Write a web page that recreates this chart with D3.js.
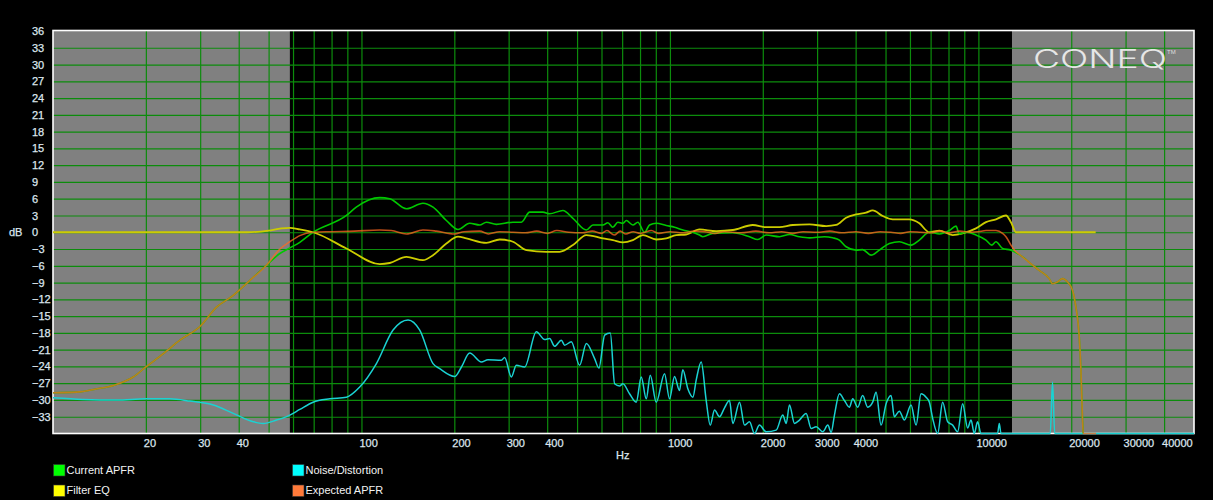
<!DOCTYPE html>
<html><head><meta charset="utf-8">
<script src="https://cdn.jsdelivr.net/npm/d3@7"></script>
<style>
html,body{margin:0;padding:0;background:#000;}
svg{display:block;}
</style></head>
<body>
<svg id="chart" width="1213" height="500"></svg>
<script>
// ---------- data ----------
const xTickLabels = [20,30,40,100,200,300,400,1000,2000,3000,4000,10000,20000,30000,40000];
const yTickLabels = [36,33,30,27,24,21,18,15,12,9,6,3,0,-3,-6,-9,-12,-15,-18,-21,-24,-27,-30,-33];
const correctionRange = [58.6, 12850]; // Hz, outside is greyed
const seriesNames = ["Current APFR","Filter EQ","Noise/Distortion","Expected APFR"];
const seriesColors = ["#00ff00","#ffff00","#00ffff","#ff7a3a"];

const lowRolloff = [[10,-28.7],[11.9,-28.6],[13.9,-28],[15.7,-27.4],[18.2,-25.9],[20,-24.1],[22.8,-21.7],[25.8,-19.3],[29.9,-16.9],[33.9,-13.4],[38.4,-11.3],[43.5,-8.6],[49.2,-5.9]];
const highRolloff = [[13905,-4.4],[14980,-5.9],[15750,-6.8],[16970,-8.3],[17390,-9.2],[18050,-8.9],[18740,-8.3],[19450,-8.9],[20190,-10.4],[20710,-13.4],[21230,-18.7],[21500,-24.7],[21760,-33.6],[21870,-36]];

const currentAPFR = [[54.4,-3.8],[58.6,-2.8],[63.1,-1.8],[69.7,0],[89.4,3],[96.2,4.5],[114.6,6.2],[123.5,6],[139.9,4.2],[158.3,5.2],[170.6,4.5],[188.5,2.1],[205.6,0.5],[224.3,1.6],[241.7,1.3],[254.1,1.8],[273.7,1.4],[309.8,1.8],[329.9,1.8],[351,3.6],[387.5,3.6],[407.4,3.3],[449.9,3.9],[484.8,2.5],[535.8,0.4],[562.8,1.3],[606.3,1.3],[629.3,1.7],[653.1,0.9],[678,1.8],[703.8,1.6],[721.9,2.1],[758.3,1.3],[787,1.8],[827.4,0],[858.9,1.3],[902.9,1.6],[972.8,1.2],[1035,0.9],[1101,0.4],[1187,0],[1247,-0.5],[1278,-0.8],[1377,-0.2],[1599,-0.1],[1811,-0.8],[1926,-1.3],[2051,-0.5],[2265,-0.8],[2441,-0.4],[2630,-0.8],[2834,-1],[3166,-0.8],[3371,-1],[3544,-1.4],[3725,-2.6],[4013,-3.2],[4216,-3.1],[4489,-4.1],[4775,-3.2],[5145,-2],[5543,-1.7],[6049,-2.3],[6436,-1.4],[6935,0],[7473,-0.3],[8049,0.3],[8459,1.1],[8674,-0.3],[9117,0],[9822,-0.5],[10583,-1.4],[11043,-2.3],[11402,-1.7],[11980,-2.9],[12753,-3.2]];

const filterEQ = [[10,0],[42.5,0],[50,0.3],[55,0.7],[58.6,0.8],[63.1,0.5],[69.7,0],[89.4,-2.9],[114.6,-5.7],[123.5,-5.5],[139.9,-4.4],[158.3,-5],[170.6,-4.1],[188.5,-2],[205.6,-0.8],[218.8,-1.1],[254.1,-1.9],[280.5,-1.3],[309.8,-1.7],[342.4,-3.2],[397.5,-3.5],[439,-3.5],[484.8,-2.3],[535.8,-0.5],[606.3,-1.1],[653.1,-1.4],[703.8,-1.8],[758.3,-1.4],[817.1,-0.5],[902.9,-1.3],[972.8,-1.1],[1048,-0.5],[1129,-0.4],[1247,0.5],[1413,0.2],[1599,0.4],[1856,1.3],[2051,0.9],[2265,0.9],[2502,1.3],[2834,1.4],[3209,1.1],[3458,1.3],[3725,2.6],[4013,3.2],[4324,3.5],[4543,3.9],[4895,2.9],[5275,2.3],[5973,2.3],[6436,1.6],[6935,0],[7473,0.3],[8251,-0.5],[8890,-0.2],[9822,0.7],[10583,1.8],[11402,2.3],[12286,3],[12753,1.8],[13237,0],[24000,0]];

const expectedAPFR = [[54.4,-3.0],[58.6,-1.7],[63.1,-0.6],[69.7,0],[80,0.1],[95,0.2],[114.6,0.4],[125,0.3],[139.9,-0.3],[158.3,0.4],[175,0.2],[200.5,-0.3],[215,0.1],[241.7,0.2],[258,-0.3],[280,0.1],[310,0],[340,-0.1],[370,0.2],[400,-0.2],[430,0.3],[470,0],[520,-0.1],[560,0.2],[600,-0.2],[625,0.3],[660,-0.5],[690,0.2],[720,-0.3],[760,0.1],[800,-0.2],[830,0],[870,0.3],[920,-0.2],[1000,0.1],[1100,-0.1],[1200,0.2],[1300,0.1],[1400,-0.2],[1500,0.1],[1700,-0.1],[1900,0.2],[2100,-0.1],[2300,0.1],[2500,-0.2],[2700,0.1],[3000,0],[3300,0.2],[3600,-0.1],[4000,0.1],[4400,-0.2],[4800,0.1],[5200,0],[5600,-0.2],[6000,0.1],[6500,0],[7000,-0.1],[7500,0.2],[8000,-0.1],[8700,0.2],[9500,0],[10000,0.1],[10583,0.3],[11402,0.3],[11980,-0.2],[12286,-0.8],[12753,-2.3],[13100,-3.2]];
const expectedTail = [[24070,-36]];

const noiseDistortion = [[10,-29.6],[12.5,-29.9],[16.1,-30],[20,-29.8],[23.9,-29.8],[27.8,-30.2],[33.1,-30.9],[38.4,-32.4],[44.6,-33.9],[48,-34.2],[53,-33.6],[58.6,-32.7],[63.1,-31.7],[69.7,-30.4],[79,-29.8],[89.4,-29.5],[98.7,-27.7],[111.8,-23.5],[126.6,-17.5],[141.6,-15.7],[154.5,-17.5],[170.6,-23.5],[179.3,-24.4],[200.5,-25.8],[210.9,-24.1],[224.3,-21.6],[244.8,-23.2],[257.1,-22.8],[284.1,-22.9],[291.2,-22.4],[306.1,-25.9],[317.7,-23.8],[338.1,-24.1],[368.9,-17.8],[392.5,-19.2],[407.4,-19],[422.9,-20.4],[444.6,-19.3],[455.6,-20.2],[479,-19.6],[509.6,-23.8],[535.8,-19.9],[570,-22.6],[588.6,-24.3],[614.2,-18.4],[640.8,-18],[661.7,-27.1],[686.7,-27.5],[703.8,-27.1],[739.8,-28.9],[777.7,-30.4],[807.3,-25.9],[838,-29.8],[863.5,-25.6],[902.9,-30.4],[960.5,-25.3],[997,-29.8],[1035,-25.8],[1074,-28.3],[1101,-24.6],[1143,-28],[1187,-29.5],[1217,-26.4],[1263,-23.2],[1311,-30.1],[1351,-34.5],[1395,-31.8],[1448,-33],[1503,-31.4],[1560,-30.1],[1599,-34.2],[1681,-30.4],[1745,-34.5],[1811,-33.9],[1880,-36],[1951,-34.5],[2051,-35.7],[2210,-35.4],[2322,-32.7],[2382,-34.2],[2441,-30.9],[2534,-34.2],[2630,-33.6],[2764,-32.4],[2870,-35.1],[2979,-34.8],[3130,-35.7],[3249,-34.5],[3332,-35.8],[3415,-32.7],[3544,-28.9],[3679,-30.1],[3818,-31.3],[3914,-29.8],[4062,-31.3],[4216,-29.2],[4377,-31.3],[4543,-30.4],[4659,-28.6],[4836,-34.5],[5020,-30.7],[5210,-29.2],[5340,-33],[5543,-32],[5754,-33.6],[6049,-30.9],[6280,-34.5],[6517,-28.9],[6766,-29.5],[6935,-30.4],[7108,-33.3],[7378,-36],[7658,-30.4],[7950,-33.9],[8251,-34.5],[8564,-35.7],[8890,-30.7],[9228,-35],[9465,-33.6],[9699,-36],[9940,-33.9],[10195,-36],[11540,-36],[11687,-34.2],[11836,-36],[17100,-36],[17390,-26.8],[17680,-36],[50000,-36]];

// ---------- layout ----------
const W = 1213, H = 500;
const L = 53, R = 1194, T = 31, B = 433.5;
const svg = d3.select("#chart");
svg.append("rect").attr("width", W).attr("height", H).attr("fill", "#000");

const x = d3.scaleLog().domain([10, 50000]).range([L, R]);
const y = d3.scaleLinear().domain([-36, 36]).range([B, T]);

// plot background: black middle, grey outside correction range
svg.append("rect").attr("x", L).attr("y", T).attr("width", R - L).attr("height", B - T).attr("fill", "#000");
svg.append("rect").attr("x", x(10)).attr("y", T).attr("width", x(correctionRange[0]) - x(10)).attr("height", B - T).attr("fill", "#808080");
svg.append("rect").attr("x", x(correctionRange[1])).attr("y", T).attr("width", x(50000) - x(correctionRange[1])).attr("height", B - T).attr("fill", "#808080");

// grid
const gridX = [];
for (let e = 1; e <= 4; e++) for (let k = 1; k <= 9; k++) { const v = k * Math.pow(10, e); if (v > 10 && v < 50000) gridX.push(v); }
const gx = svg.append("g").attr("transform", `translate(0,${B})`)
  .call(d3.axisBottom(x).tickValues(gridX).tickSize(-(B - T)).tickFormat(""));
gx.select(".domain").remove();
gx.selectAll("line").attr("stroke", "#0c8c0c").attr("stroke-width", 1.2);

const gridY = d3.range(-33, 34, 3);
const gy = svg.append("g").attr("transform", `translate(${L},0)`)
  .call(d3.axisLeft(y).tickValues(gridY).tickSize(-(R - L)).tickFormat(""));
gy.select(".domain").remove();
gy.selectAll("line").attr("stroke", "#0c8c0c").attr("stroke-width", 1.2);

// logo
const logo = svg.append("g");
logo.append("text").attr("x", 1033).attr("y", 67.5)
  .attr("textLength", 134).attr("lengthAdjust", "spacingAndGlyphs")
  .attr("font-family", "Inter, 'DejaVu Sans'").attr("font-weight", 300).attr("font-size", 26)
  .attr("fill", "#e6e6e6").text("CONEQ");
logo.append("text").attr("x", 1167).attr("y", 54).attr("font-family", "Liberation Sans, Arial")
  .attr("font-size", 6).attr("fill", "#dddddd").text("TM");

// border
svg.append("rect").attr("x", L).attr("y", T - 0.5).attr("width", R - L).attr("height", B - T + 0.5)
  .attr("fill", "none").attr("stroke", "#ffffff").attr("stroke-width", 1.6);

// curves
svg.append("clipPath").attr("id", "clip").append("rect")
  .attr("x", L).attr("y", T - 1).attr("width", R - L).attr("height", B - T + 2.5);
const plot = svg.append("g").attr("clip-path", "url(#clip)");
const line = d3.line().x(d => x(d[0])).y(d => y(d[1])).curve(d3.curveMonotoneX);

plot.append("path").datum(noiseDistortion).attr("d", line)
  .attr("fill", "none").attr("stroke", "#1ad2d2").attr("stroke-width", 1.5);
plot.append("path").datum(filterEQ).attr("d", line)
  .attr("fill", "none").attr("stroke", "#cccc00").attr("stroke-width", 1.8);
plot.append("path").datum(lowRolloff.concat(currentAPFR, highRolloff)).attr("d", line)
  .attr("fill", "none").attr("stroke", "#00c800").attr("stroke-width", 1.6);
plot.append("path").datum(lowRolloff.concat(expectedAPFR, highRolloff, expectedTail)).attr("d", line)
  .attr("fill", "none").attr("stroke", "#ff6a20").attr("stroke-opacity", 0.75).attr("stroke-width", 1.6);

// axes labels
const fontFam = "'Liberation Sans', Arial, sans-serif";
const labelColor = "#dde6ee";
const xa = svg.append("g").attr("transform", `translate(0,${B})`)
  .call(d3.axisBottom(x).tickValues(xTickLabels).tickSize(0).tickPadding(0).tickFormat(d3.format("d")));
xa.select(".domain").remove();
xa.selectAll("text").attr("text-anchor", "start").attr("dx", -2.5).attr("y", 0).attr("dy", "1.2em")
  .attr("fill", labelColor).attr("stroke", labelColor).attr("stroke-width", 0.25)
  .attr("font-family", fontFam).attr("font-size", 11);

const ya = svg.append("g").attr("transform", `translate(32,0)`)
  .call(d3.axisLeft(y).tickValues(yTickLabels).tickSize(0).tickPadding(0).tickFormat(d3.format("d")));
ya.select(".domain").remove();
ya.selectAll("text").attr("text-anchor", "start").attr("x", 0)
  .attr("fill", labelColor).attr("stroke", labelColor).attr("stroke-width", 0.25)
  .attr("font-family", fontFam).attr("font-size", 11);

svg.append("text").attr("x", 9).attr("y", y(0)).attr("dy", "0.32em")
  .attr("fill", labelColor).attr("stroke", labelColor).attr("stroke-width", 0.25)
  .attr("font-family", fontFam).attr("font-size", 11).text("dB");
svg.append("text").attr("x", 616).attr("y", 455).attr("dy", "0.32em")
  .attr("fill", labelColor).attr("stroke", labelColor).attr("stroke-width", 0.25)
  .attr("font-family", fontFam).attr("font-size", 11).text("Hz");

// legend
const legendPos = [[53, 470], [53, 490.5], [292, 470], [292, 490.5]];
seriesNames.forEach((name, i) => {
  const [lx, ly] = legendPos[i];
  const g = svg.append("g").attr("transform", `translate(${lx},${ly})`);
  g.append("rect").attr("x", 0.5).attr("y", -5.5).attr("width", 11.5).attr("height", 11.5)
    .attr("fill", seriesColors[i]).attr("stroke", "#333").attr("stroke-width", 0.6);
  g.append("text").attr("x", 13.5).attr("y", 0).attr("dy", "0.35em")
    .attr("fill", "#f2f2f2").attr("font-family", fontFam).attr("font-size", 11).text(name);
});
</script>
</body></html>
